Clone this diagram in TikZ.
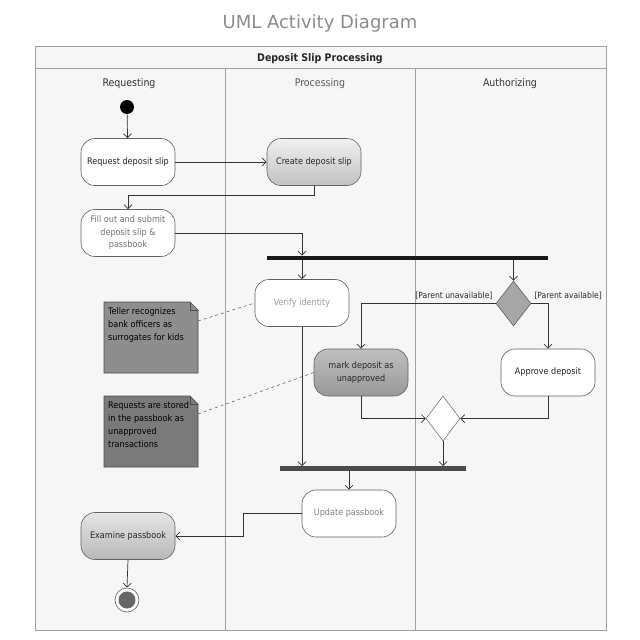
\documentclass[tikz,border=0pt]{standalone}
\usepackage{fontspec}
\setmainfont{DejaVu Sans Condensed}
\newfontfamily\titlefont{DejaVu Sans}
\usetikzlibrary{arrows.meta,shapes.geometric,calc}
\definecolor{lanebg}{HTML}{F6F6F6}
\definecolor{frameline}{HTML}{A0A0A0}
\definecolor{nodeline}{HTML}{606060}
\definecolor{flowcol}{HTML}{333333}
\definecolor{notefill}{HTML}{8E8E8E}
\definecolor{notefilltwo}{HTML}{7A7A7A}
\begin{document}
\begin{tikzpicture}[x=1pt,y=-1pt,
  act/.style={draw=nodeline, line width=0.6pt, fill=white, rounded corners=14pt,
    minimum width=94pt, minimum height=47pt, align=center, inner sep=2pt,
    font=\fontsize{9}{12.5}\selectfont, text=black!85},
  flow/.style={draw=flowcol, line width=0.7pt, -{Straight Barb[length=4pt,width=8pt]}},
  bar/.style={inner sep=0pt, minimum height=4.5pt},
  lanehead/.style={font=\fontsize{10.5}{12}\selectfont},
  guard/.style={font=\fontsize{8.5}{10}\selectfont, inner sep=1pt, text=black!85},
  notetext/.style={font=\fontsize{9}{13}\selectfont, align=left, inner sep=4pt, anchor=north west, text=black},
  noteline/.style={draw=black!70, line width=0.6pt},
  dashlink/.style={draw=black!60, dashed, line width=0.6pt}
]
\useasboundingbox (0,0) rectangle (640,640);
\fill[white] (0,0) rectangle (640,640);

% title
\node[font=\titlefont\fontsize{18}{20}\selectfont, text=black!45] (title) at (320,24) {UML Activity Diagram};

% frame and lanes
\draw[frameline, fill=lanebg, line width=0.8pt] (35,46) rectangle (606,630);
\draw[frameline, line width=0.8pt] (35,68) -- (606,68);
\draw[frameline, line width=0.8pt] (225,68) -- (225,630);
\draw[frameline, line width=0.8pt] (415,68) -- (415,630);
\node[font=\bfseries\fontsize{10.5}{12}\selectfont, text=black!85] (hdr) at (320,58.5) {Deposit Slip Processing};
\node[lanehead, text=black!80] (l1) at (129,83.5) {Requesting};
\node[lanehead, text=black!65] (l2) at (320,83.5) {Processing};
\node[lanehead, text=black!80] (l3) at (510,83.5) {Authorizing};

% note outlines (drawn first, text on top)
\coordinate (n1nw) at (104,302);
\coordinate (n2nw) at (104,396);
\draw[noteline, fill=notefill] (n1nw) -- ++(86,0) -- ++(8,8) -- ++(0,63) -- ++(-94,0) -- cycle;
\draw[noteline] ($(n1nw)+(86,0)$) -- ++(0,8) -- ++(8,0);
\draw[noteline, fill=notefilltwo] (n2nw) -- ++(86,0) -- ++(8,8) -- ++(0,63) -- ++(-94,0) -- cycle;
\draw[noteline] ($(n2nw)+(86,0)$) -- ++(0,8) -- ++(8,0);

% nodes
\node[circle, fill=black, inner sep=0pt, minimum size=14pt] (init) at (127,107) {};
\node[act] (req) at (128,162) {Request deposit slip};
\node[act, top color=white!94!black, bottom color=white!76!black] (create) at (314,162) {Create deposit slip};
\node[act, text=black!55] (fill) at (128,233) {Fill out and submit\\deposit slip \&\\passbook};
\node[bar, fill=black!90, minimum width=281pt] (fork) at (407.5,258) {};
\node[act, text=black!40] (verify) at (302,303) {Verify identity};
\node[diamond, draw=nodeline, fill=black!35, line width=0.6pt, inner sep=0pt, minimum width=35pt, minimum height=45pt] (dec) at (513.5,303.5) {};
\node[act, top color=black!25, bottom color=black!40] (mark) at (361,372.5) {mark deposit as\\unapproved};
\node[act] (approve) at (548,372.5) {Approve deposit};
\node[diamond, draw=nodeline, fill=white, line width=0.5pt, inner sep=0pt, minimum width=34pt, minimum height=45pt] (merge) at (443,418.5) {};
\node[bar, fill=black!70, minimum width=186pt] (join) at (373,468.5) {};
\node[act, text=black!50] (update) at (349,513.5) {Update passbook};
\node[act, top color=white!90!black, bottom color=white!72!black] (examine) at (128,536) {Examine passbook};
\node[circle, draw=nodeline, fill=white, line width=0.6pt, inner sep=0pt, minimum size=24pt] (final) at (127,600) {};
\node[circle, fill=black!60, inner sep=0pt, minimum size=17pt] (finalin) at (127,600) {};

% guards
\node[guard, anchor=south east] (gu) at ([xshift=-2pt,yshift=3pt]dec.west) {[Parent unavailable]};
\node[guard, anchor=south west] (ga) at ([xshift=2pt,yshift=3pt]dec.east) {[Parent available]};

% notes text
\node[notetext] (n1) at ([shift={(0,1.5)}]n1nw) {Teller recognizes\\bank officers as\\surrogates for kids};
\node[notetext] (n2) at ([shift={(0,1.5)}]n2nw) {Requests are stored\\in the passbook as\\unapproved\\transactions};

% note links
\draw[dashlink] ($(n1nw)+(94,19)$) -- (verify.west);
\draw[dashlink] ($(n2nw)+(94,18)$) -- (mark.west);

% flows
\draw[flow] (init) -- (req);
\draw[flow] (req) -- (create);
\draw[flow] (create.south) -- ++(0,10) -| (fill.north);
\draw[flow] (fill.east) -| (verify |- fork.north);
\draw[flow] (verify |- fork.south) -- (verify.north);
\draw[flow] (dec |- fork.south) -- (dec.north);
\draw[flow] (dec.west) -| (mark.north);
\draw[flow] (dec.east) -| (approve.north);
\draw[flow] (mark.south) |- (merge.west);
\draw[flow] (approve.south) |- (merge.east);
\draw[flow] (merge.south) -- (merge |- join.north);
\draw[flow] (verify.south) -- (verify |- join.north);
\draw[flow] (update |- join.south) -- (update.north);
\draw[flow] (update.west) -- ++(-58,0) |- (examine.east);
\draw[flow] (examine.south) -- (final.north);
\end{tikzpicture}
\end{document}
